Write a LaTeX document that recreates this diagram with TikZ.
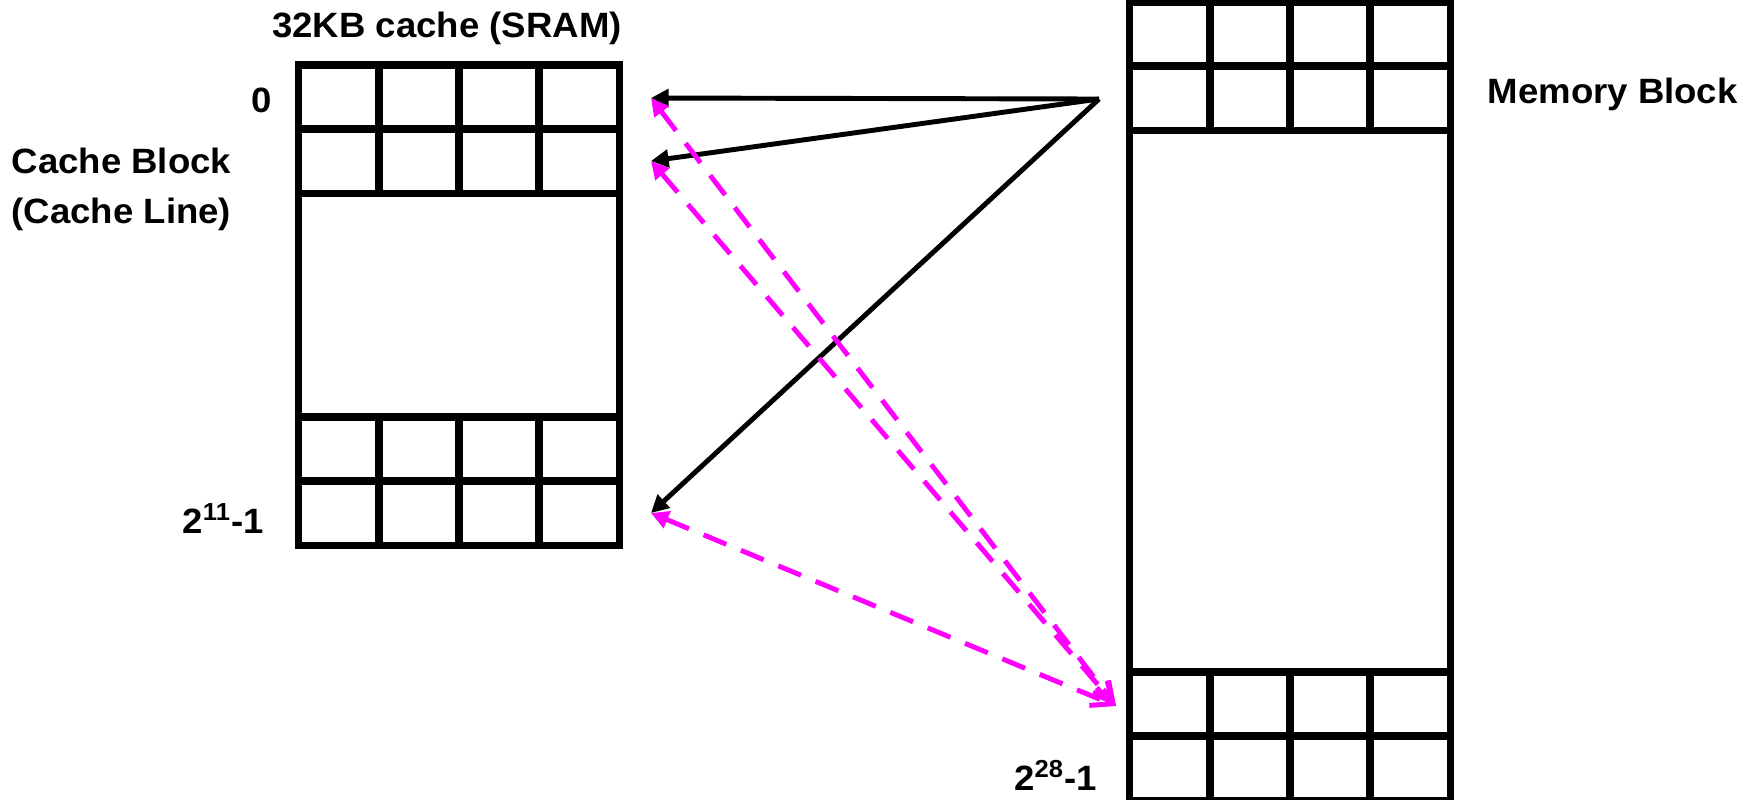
\documentclass[tikz,border=0pt]{standalone}
\usepackage{fontspec}
\setmainfont{Liberation Sans}[FakeStretch=1.04]
\usetikzlibrary{arrows.meta}
\definecolor{mag}{RGB}{255,0,255}

\begin{document}
\begin{tikzpicture}[x=0.01cm, y=-0.01cm, every node/.style={font=\fontsize{10}{12}\selectfont\bfseries, inner sep=0pt}]
    \tikzset{cell/.style={draw=black, line width=2pt, minimum width=0.8cm, minimum height=0.64cm}};
    \tikzset{box/.style={draw=black, line width=2pt, minimum width=3.2cm}};
    \tikzset{load/.style={-{Triangle[length=5pt,width=5pt]}, line width=1.4pt, black}};
    \tikzset{back/.style={{Triangle[length=5pt,width=5pt]}-{Straight Barb[length=5.5pt,width=5.5pt]}, line width=1.4pt, mag, dash pattern=on 7pt off 4.5pt}};
    \useasboundingbox (0,0) rectangle (1762,799);
    \clip (0,0) rectangle (1762,799);
    % cache and memory
    \node[box, minimum height=4.8cm] (cache) at (459,305) {};
    \node[box, minimum height=8.3cm] (mem) at (1290,418) {};
    \foreach \r/\y in {0/97, 1/161, 2/449, 3/513}
      \foreach \c in {0,...,3}
        \node[cell] (c\r\c) at (339+80*\c, \y) {};
    \foreach \r/\y in {0/34, 1/98, 2/704, 3/768}
      \foreach \c in {0,...,3}
        \node[cell] (m\r\c) at (1170+80*\c, \y) {};
    % labels
    \node[anchor=base] (ttl) at (447,37) {32KB cache (SRAM)};
    \node[anchor=base east] (cfirst) at (273,112) {0};
    \node[anchor=base west] (cblk) at (11,173) {Cache Block};
    \node[anchor=base west] (cline) at (11,223) {(Cache Line)};
    \node[anchor=base east] (clast) at (265,533) {2\textsuperscript{11}-1};
    \node[anchor=base west] (mblk) at (1487,103) {Memory Block};
    \node[anchor=base east] (mlast) at (1098,790) {2\textsuperscript{28}-1};
    % arrows
    \coordinate (out0) at (1099,99);
    \coordinate (outN) at (1116,706);
    \coordinate (in0) at (651,98);
    \coordinate (in1) at (651,161);
    \coordinate (inN) at (651,513);
    {
       \path[load]
        (out0) edge (in0)
        (out0) edge (in1)
        (out0) edge (inN)
        ;
       \path[back]
        (in0) edge (outN)
        (in1) edge (outN)
        (inN) edge (outN)
        ;
    }
\end{tikzpicture}
\end{document}
